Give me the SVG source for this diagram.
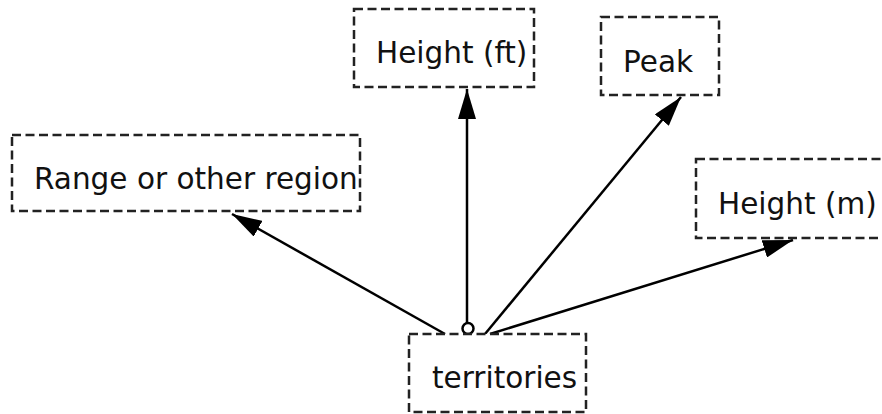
<svg xmlns="http://www.w3.org/2000/svg" width="882" height="414" viewBox="0 0 882 414">
<style>
.box{fill:#fff;stroke:#222;stroke-width:2.5;stroke-dasharray:9 4.5}
.lbl{font-family:"DejaVu Sans",sans-serif;font-size:29.5px;fill:#111}
.edge{stroke:#000;stroke-width:2.5;fill:none}
</style>
<defs>
<marker id="arr" viewBox="0 -9 30 18" refX="30" refY="0" markerWidth="30" markerHeight="18" markerUnits="userSpaceOnUse" orient="auto">
<path d="M0,-9 L30,0 L0,9 z" fill="#000"/>
</marker>
</defs>
<rect width="882" height="414" fill="#fff"/>
<g id="connectors">
<line class="edge" x1="445" y1="334" x2="232" y2="214" marker-end="url(#arr)"/>
<line class="edge" x1="467" y1="323" x2="467" y2="89" marker-end="url(#arr)"/>
<line class="edge" x1="485" y1="334" x2="681" y2="97" marker-end="url(#arr)"/>
<line class="edge" x1="490" y1="334" x2="793" y2="240" marker-end="url(#arr)"/>
<circle cx="468" cy="328.5" r="5.5" fill="#fff" stroke="#000" stroke-width="2.5"/>
</g>
<g id="node-range">
<rect class="box" x="12" y="135" width="348" height="76"/>
<text class="lbl" x="34" y="189">Range or other region</text>
</g>
<g id="node-height-ft">
<rect class="box" x="354" y="9" width="180" height="78"/>
<text class="lbl" x="376" y="63">Height (ft)</text>
</g>
<g id="node-peak">
<rect class="box" x="601" y="17" width="118" height="78"/>
<text class="lbl" x="623" y="72">Peak</text>
</g>
<g id="node-height-m">
<rect class="box" x="696" y="159" width="200" height="79"/>
<text class="lbl" x="718" y="214">Height (m)</text>
</g>
<g id="node-territories">
<rect class="box" x="409" y="334" width="177" height="78"/>
<text class="lbl" x="432" y="388">territories</text>
</g>
</svg>
